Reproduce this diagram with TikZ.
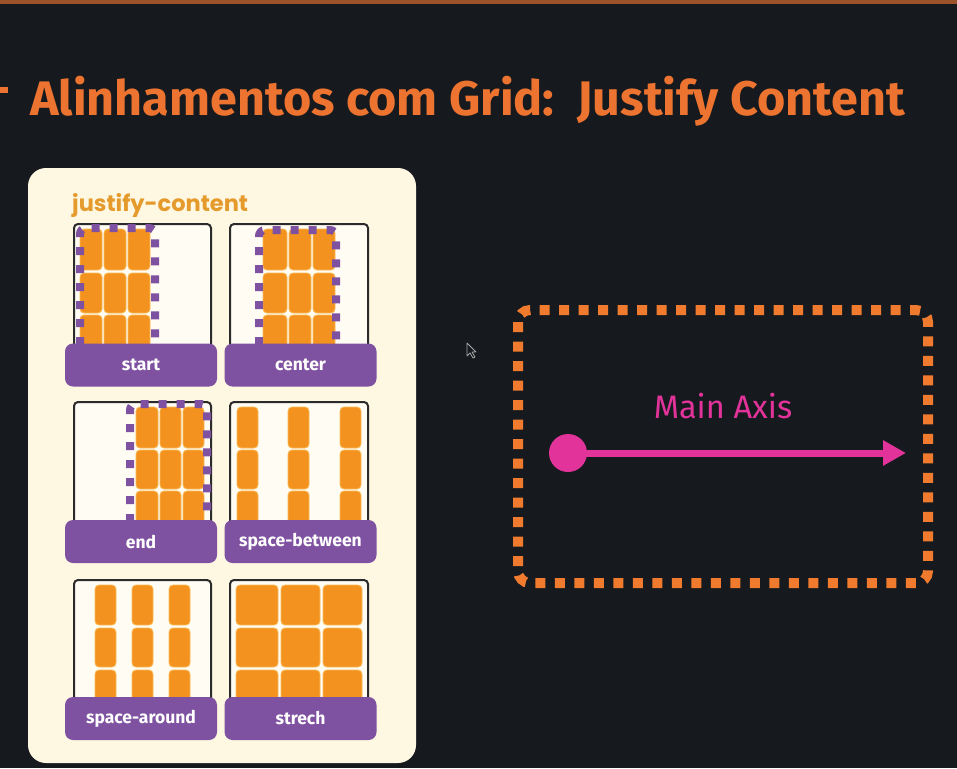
\documentclass[tikz,border=0pt]{standalone}
\usepackage{fontspec}
\setmainfont{Fira Sans}
\newfontfamily\popfont{Poppins}
\usetikzlibrary{arrows.meta}
\definecolor{bg}{HTML}{16191D}
\definecolor{topline}{HTML}{9C5228}
\definecolor{ttl}{HTML}{EC7430}
\definecolor{cream}{HTML}{FEF7E2}
\definecolor{jc}{HTML}{E59A2C}
\definecolor{purp}{HTML}{7F52A1}
\definecolor{itm}{HTML}{F4921F}
\definecolor{itmb}{HTML}{F9BA55}
\definecolor{cellbg}{HTML}{FFFCF4}
\definecolor{cellline}{HTML}{2B2B2B}
\definecolor{dotor}{HTML}{F07A2E}
\definecolor{mag}{HTML}{E2339B}
\tikzset{
  cellbox/.style={draw=cellline, line width=2pt, fill=cellbg, rounded corners=4pt},
  item/.style={fill=itm, draw=itmb, line width=0.8pt, rounded corners=4pt},
  pdots/.style={draw=purp, line width=8pt, dash pattern=on 8pt off 10pt, rounded corners=6pt},
  lbar/.style={fill=purp, rounded corners=8pt, minimum width=152pt, minimum height=43pt, inner sep=0pt,
    text=white, font=\fontsize{17.5}{20}\selectfont\bfseries},
}
\begin{document}
\begin{tikzpicture}[x=1pt,y=-1pt]
\useasboundingbox (0,0) rectangle (957,768);
\fill[bg] (0,0) rectangle (957,768);
\fill[topline] (0,0) rectangle (957,4);
\fill[ttl] (0,87) rectangle (8,93);
\node[anchor=base west, inner sep=0pt, text=ttl, font=\fontsize{48.5}{52}\selectfont\bfseries] (title) at (30,115) {Alinhamentos com Grid:\ \ Justify Content};
% panel
\fill[cream, rounded corners=18pt] (28,168) rectangle (416,763);
\node[anchor=base west, inner sep=0pt, text=jc, font=\fontsize{22.5}{26}\popfont\bfseries] (jc) at (72,211) {justify-content};
% cell boxes
\draw[cellbox] (74,224) rectangle (211,352);
\draw[cellbox] (230,224) rectangle (368,352);
\draw[cellbox] (74,402) rectangle (211,528);
\draw[cellbox] (230,402) rectangle (368,528);
\draw[cellbox] (74,580) rectangle (211,704);
\draw[cellbox] (230,580) rectangle (368,704);
% start
\foreach \xa/\xb in {80/102,104/126,128/150}
  \foreach \ya/\yb in {229/270,273/313,315/350}
    \draw[item] (\xa,\ya) rectangle (\xb,\yb);
\draw[pdots] (80,345) -- (80,228) -- (155,228) -- (155,345);
% center
\foreach \xa/\xb in {263/287,289/311,313/335}
  \foreach \ya/\yb in {229/270,273/313,315/350}
    \draw[item] (\xa,\ya) rectangle (\xb,\yb);
\draw[pdots] (259,345) -- (259,230) -- (336,230) -- (336,345);
% end
\foreach \xa/\xb in {136/158,160/181,183/204}
  \foreach \ya/\yb in {407/448,450/489,491/526}
    \draw[item] (\xa,\ya) rectangle (\xb,\yb);
\draw[pdots] (130,522) -- (130,404) -- (207,404) -- (207,522);
% space-between
\foreach \xa/\xb in {237/258,288/309,340/361}
  \foreach \ya/\yb in {407/448,450/489,491/526}
    \draw[item] (\xa,\ya) rectangle (\xb,\yb);
% space-around
\foreach \xa/\xb in {95/116,132/153,169/190}
  \foreach \ya/\yb in {585/625,628/667,670/702}
    \draw[item] (\xa,\ya) rectangle (\xb,\yb);
% strech
\foreach \xa/\xb in {236/278,281/320,323/362}
  \foreach \ya/\yb in {585/625,628/667,670/702}
    \draw[item] (\xa,\ya) rectangle (\xb,\yb);
% labels
\node[lbar] (lstart) at (141,365) {\raisebox{-2pt}{start}};
\node[lbar] (lcenter) at (300.5,365) {\raisebox{-2pt}{center}};
\node[lbar] (lend) at (141,541.5) {\raisebox{-2pt}{end}};
\node[lbar] (lbetween) at (300.5,541.5) {\raisebox{-2pt}{space-between}};
\node[lbar] (laround) at (141,718.5) {\raisebox{-2pt}{space-around}};
\node[lbar] (lstrech) at (300.5,718.5) {\raisebox{-2pt}{strech}};
% cursor
\draw[gray!70, line width=0.8pt, fill=bg, line join=round] (467,343) -- (467,356) -- (470,353) -- (473,358) -- (475,357) -- (472,352) -- (476,352) -- cycle;
% main axis box
\draw[dotor, line width=10pt, dash pattern=on 10pt off 9.5pt, rounded corners=12pt] (518,310) rectangle (928,583);
\node[circle, fill=mag, minimum size=38pt, inner sep=0pt] (dot) at (568,453) {};
\coordinate (axend) at (906,453);
\draw[mag, line width=7pt, -{Triangle[length=23pt,width=24pt]}] (dot.center) -- (axend);
\node[anchor=base, inner sep=0pt, text=mag, font=\fontsize{32.5}{34}\selectfont] (axlabel) at (723,418) {Main Axis};
\end{tikzpicture}
\end{document}
